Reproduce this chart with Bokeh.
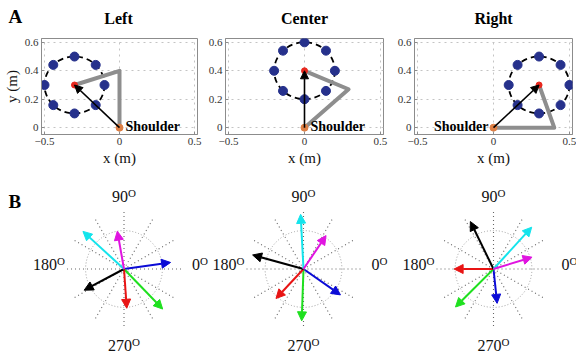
import numpy as np
from bokeh.plotting import figure
from bokeh.layouts import column, row
from bokeh.models import Range1d, FixedTicker, Arrow, NormalHead
from bokeh.embed import file_html
from bokeh.resources import INLINE
from bokeh.core.properties import value

# ---------------- data: panel A (arm configurations) ----------------
panel_letters = ["A", "B"]
panel_titles = ["Left", "Center", "Right"]
hand_x = [-0.3, 0.0, 0.3]
hand_y = [0.3, 0.4, 0.3]
elbow_x = [0.0, 0.29, 0.4]
elbow_y = [0.4, 0.27, 0.0]
shoulder_x = 0.0
shoulder_y = 0.0
target_radius = 0.2
target_angles = [0, 45, 90, 135, 180, 225, 270, 315]
x_ticks = [-0.5, 0, 0.5]
x_tick_labels = ["\u22120.5", "0", "0.5"]
y_ticks = [0, 0.2, 0.4, 0.6]
y_tick_labels = ["0", "0.2", "0.4", "0.6"]

# ---------------- data: panel B (compass plots) ----------------
arrow_colors = ["#0b0bd6", "#1fe01f", "#e81414", "#000000", "#14e4ec", "#e014e0"]
left_angles = [8, 314, 274, 208, 137.5, 100]
left_mags = [0.49, 0.58, 0.41, 0.47, 0.58, 0.40]
center_angles = [325, 268, 227, 164.6, 93, 56]
center_mags = [0.47, 0.54, 0.42, 0.55, 0.57, 0.42]
right_angles = [276, 225, 180, 116, 47.6, 17]
right_mags = [0.36, 0.56, 0.41, 0.55, 0.59, 0.42]
spoke_angles = [0, 30, 60, 90, 120, 150, 180, 210, 240, 270, 300, 330]
spoke_length = 0.62
ring_radius = 0.4
compass_labels = ["0", "90", "180", "270"]

SERIF = "Liberation Serif"

# ---------------- layout (pixels) ----------------
HEAD_H = 30
TOP_H = 138
BOT_H = 185
TOP_W = [205, 188, 183]
BL = [39, 20, 21]
BR = [8, 10, 4]
FRAME_W = [w - l - r for w, l, r in zip(TOP_W, BL, BR)]
X_LO, X_HI = -0.52, 0.52
Y_LO, Y_HI = -0.048, 0.627
BOT_W = [211, 187, 178]
S = 96.0                        # px per compass unit
CX = [123.5, 92.0, 95.0]        # compass centre from figure left
CY = 100.5                      # compass centre from figure top
LAB_OFF = [(76, 5), (4, 73), (-67, 5), (8, -76)]


def header():
    p = figure(width=sum(TOP_W), height=HEAD_H,
               x_range=Range1d(0, sum(TOP_W)), y_range=Range1d(0, HEAD_H),
               output_backend="svg", toolbar_location=None,
               x_axis_location=None, y_axis_location=None,
               min_border_left=0, min_border_right=0, min_border_top=0, min_border_bottom=0)
    p.grid.visible = False
    p.outline_line_color = None
    centres, left = [], 0
    for w, l, fw in zip(TOP_W, BL, FRAME_W):
        centres.append(left + l + fw / 2)
        left += w
    p.text(x=centres, y=[HEAD_H - 18] * 3, text=panel_titles, text_font=value(SERIF),
           text_font_size="16px", text_font_style="bold", text_align="center",
           text_baseline="middle", text_color="black")
    p.text(x=[8], y=[HEAD_H - 15.5], text=[panel_letters[0]], text_font=value(SERIF),
           text_font_size="19px", text_font_style="bold", text_align="left",
           text_baseline="middle", text_color="black")
    return p


def top_panel(i):
    p = figure(width=TOP_W[i], height=TOP_H,
               x_range=Range1d(X_LO, X_HI), y_range=Range1d(Y_LO, Y_HI),
               output_backend="svg", toolbar_location=None,
               min_border_left=BL[i], min_border_right=BR[i],
               min_border_top=8, min_border_bottom=31)
    p.outline_line_color = "#8c8c8c"
    for ax in (p.xaxis, p.yaxis):
        ax.axis_line_color = "#8c8c8c"
        ax.major_tick_line_color = "#8c8c8c"
        ax.major_tick_in = 3
        ax.major_tick_out = 0
        ax.minor_tick_line_color = None
        ax.major_label_text_font = SERIF
        ax.major_label_text_font_size = "11px"
        ax.major_label_text_color = "#333333"
        ax.major_label_standoff = 3
        ax.axis_label_text_font = SERIF
        ax.axis_label_text_font_size = "15px"
        ax.axis_label_text_font_style = "normal"
        ax.axis_label_text_color = "#111111"
        ax.axis_label_standoff = 2
    p.xaxis.ticker = FixedTicker(ticks=x_ticks)
    p.xaxis.major_label_overrides = dict(zip(x_ticks, x_tick_labels))
    p.yaxis.ticker = FixedTicker(ticks=y_ticks)
    p.yaxis.major_label_overrides = dict(zip(y_ticks, y_tick_labels))
    p.xaxis.axis_label = "x (m)"
    if i == 0:
        p.yaxis.axis_label = "y (m)"
    p.grid.grid_line_color = "#c4c4c4"
    p.grid.grid_line_dash = "dotted"
    p.grid.grid_line_width = 1

    hx, hy = hand_x[i], hand_y[i]
    p.ellipse(x=[hx], y=[hy], width=2 * target_radius, height=2 * target_radius,
              fill_color=None, line_color="black", line_dash="6 4", line_width=1.8)
    a = np.deg2rad(target_angles)
    p.scatter(hx + target_radius * np.cos(a), hy + target_radius * np.sin(a),
              size=9, color="#26318c")
    p.line([shoulder_x, elbow_x[i], hx], [shoulder_y, elbow_y[i], hy],
           line_color="#8e8e8e", line_width=4, line_join="round")
    p.add_layout(Arrow(x_start=shoulder_x, y_start=shoulder_y, x_end=hx, y_end=hy,
                       line_color="black", line_width=1.6,
                       end=NormalHead(size=8, fill_color="black", line_color="black")))
    p.scatter([hx], [hy], size=6, color="#e8281e")
    p.scatter([shoulder_x], [shoulder_y], size=7, color="#dd7f45")
    if i < 2:
        p.text(x=[shoulder_x], y=[shoulder_y], text=["Shoulder"], x_offset=6, y_offset=-1,
               text_font=value(SERIF), text_font_size="14px", text_font_style="bold",
               text_align="left", text_baseline="middle", text_color="black")
    else:
        p.text(x=[shoulder_x], y=[shoulder_y], text=["Shoulder"], x_offset=-5, y_offset=-1,
               text_font=value(SERIF), text_font_size="14px", text_font_style="bold",
               text_align="right", text_baseline="middle", text_color="black")
    return p


def compass(i, angles, mags):
    w = BOT_W[i]
    cx = CX[i]
    p = figure(width=w, height=BOT_H,
               x_range=Range1d(-cx / S, (w - cx) / S),
               y_range=Range1d(-(BOT_H - CY) / S, CY / S),
               output_backend="svg", toolbar_location=None,
               x_axis_location=None, y_axis_location=None,
               min_border_left=0, min_border_right=0, min_border_top=0, min_border_bottom=0)
    p.grid.visible = False
    p.outline_line_color = None
    sa = np.deg2rad(spoke_angles)
    p.segment(x0=0, y0=0, x1=spoke_length * np.cos(sa), y1=spoke_length * np.sin(sa),
              line_color="#666666", line_dash="1 3", line_width=1.1)
    p.ellipse(x=[0], y=[0], width=2 * ring_radius, height=2 * ring_radius,
              fill_color=None, line_color="#a0a0a0", line_dash="1 2", line_width=1)
    ang = np.deg2rad(angles)
    for c, m, t in zip(arrow_colors, mags, ang):
        p.add_layout(Arrow(x_start=0, y_start=0, x_end=m * np.cos(t), y_end=m * np.sin(t),
                           line_color=c, line_width=2,
                           end=NormalHead(size=9, fill_color=c, line_color=c)))
    lx = [o[0] / S for o in LAB_OFF]
    ly = [o[1] / S for o in LAB_OFF]
    p.text(x=lx, y=ly, text=compass_labels, text_font=value(SERIF), text_font_size="16px",
           text_align="right", text_baseline="middle", text_color="#111111")
    p.text(x=lx, y=[v + 3 / S for v in ly], text=["O"] * 4, text_font=value(SERIF),
           text_font_size="11px", text_align="left", text_baseline="middle",
           text_color="#111111")
    if i == 0:
        p.text(x=[-(cx - 8) / S], y=[67.5 / S], text=[panel_letters[1]],
               text_font=value(SERIF), text_font_size="19px", text_font_style="bold",
               text_align="left", text_baseline="middle", text_color="black")
    return p


head = header()
tops = [top_panel(i) for i in range(3)]
bots = [compass(0, left_angles, left_mags),
        compass(1, center_angles, center_mags),
        compass(2, right_angles, right_mags)]

layout = column(head, row(*tops, spacing=0), row(*bots, spacing=0), spacing=0)
open("out.html", "w").write(file_html(layout, INLINE))
